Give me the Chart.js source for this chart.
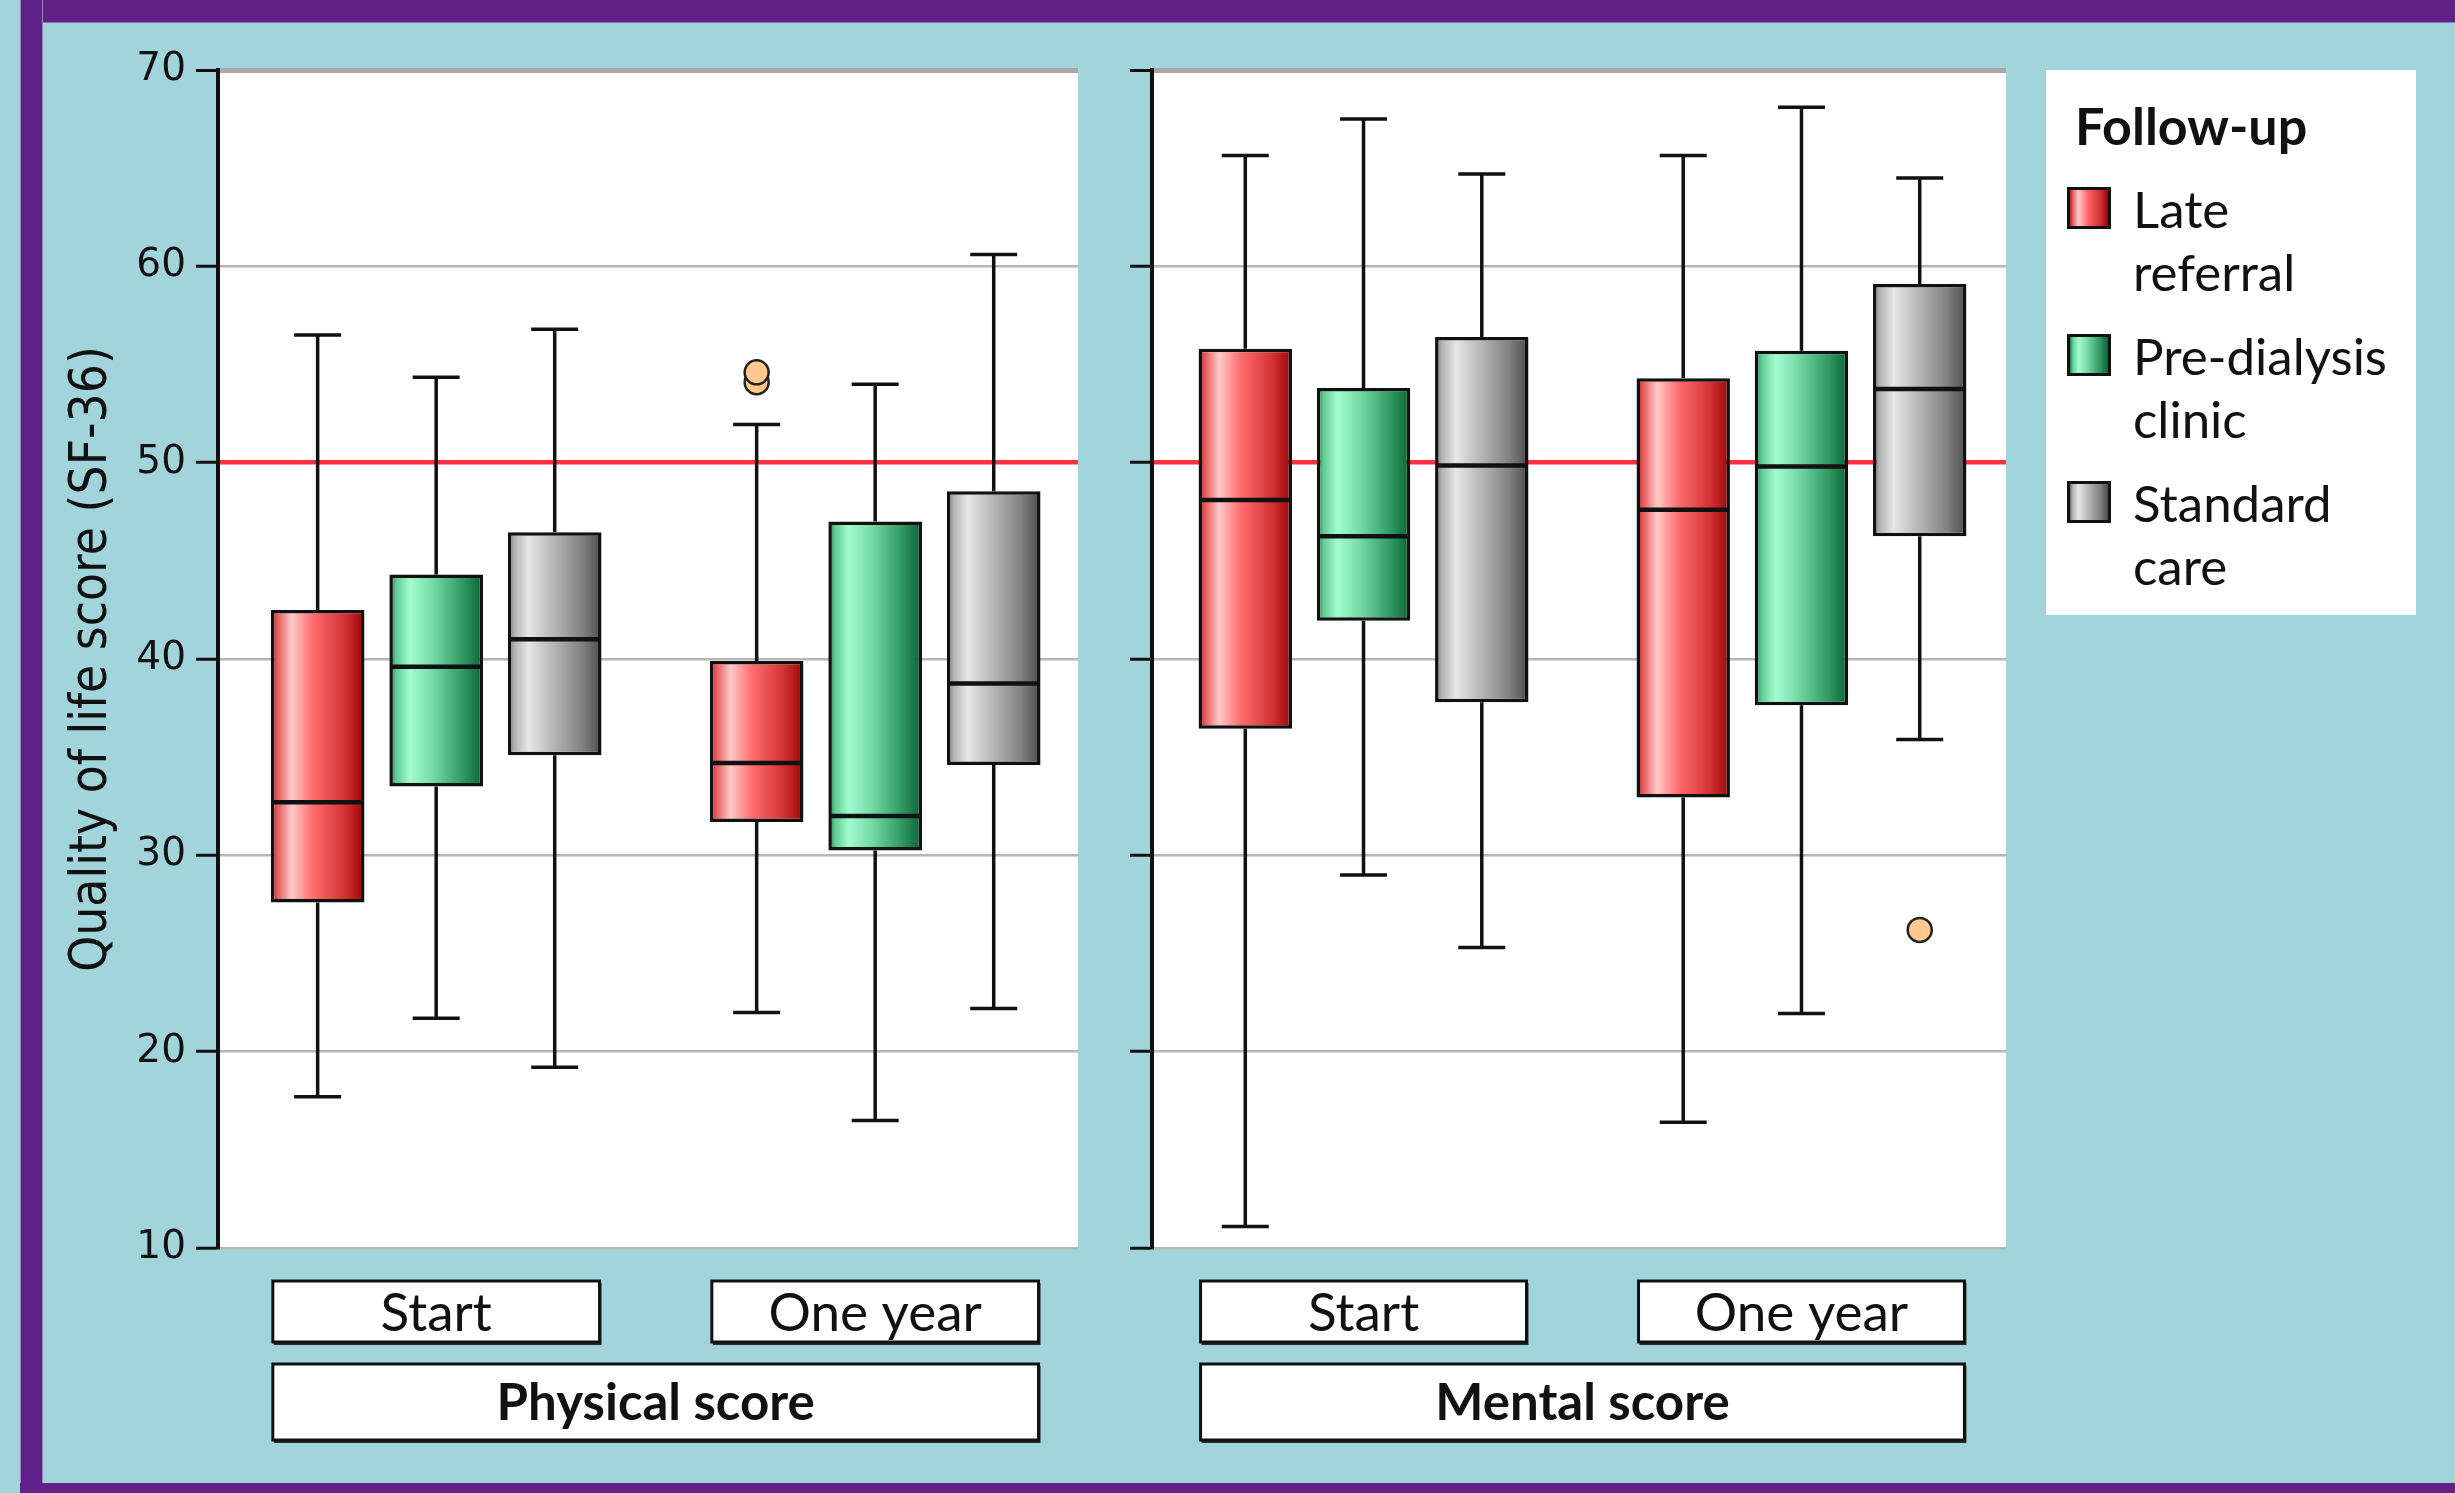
<!DOCTYPE html>
<html>
<head>
<meta charset="utf-8">
<title>Quality of life score (SF-36)</title>
<script src="https://cdn.jsdelivr.net/npm/chart.js@4.4.1/dist/chart.umd.min.js"></script>
<style>
  html, body { margin: 0; padding: 0; }
  body {
    width: 2455px; height: 1493px; position: relative; overflow: hidden;
    background: #a1d5db; font-family: Lato, "Open Sans", sans-serif;
  }
  .frame { position: absolute; background: #602288; }
  #frameTop { left: 20px; top: 0; width: 2435px; height: 22px; box-shadow: 0 1px 0 #8f73b3; }
  #frameLeft { left: 20px; top: 0; width: 23px; height: 1493px; box-shadow: inset 1px 0 0 #9c86bd, inset -1px 0 0 #9c86bd; }
  #frameBottom { left: 20px; top: 1483px; width: 2435px; height: 10px; }
  canvas { position: absolute; top: 0; }
  #physical { left: 0; }
  #mental { left: 1100px; }
  #legend {
    position: absolute; left: 2046px; top: 70px; width: 370px; height: 545px;
    background: #fff; box-sizing: border-box; padding: 24px 0 0 29px; color: #111;
  }
  .lg-title { font-weight: 700; font-size: 52px; line-height: 62px; }
  .lg-item { display: flex; align-items: flex-start; margin-top: 21px; margin-left: -8px; }
  .lg-swatch { width: 38px; height: 36px; border: 3px solid #111; margin-top: 10px; margin-right: 22px; flex: none; }
  .lg-text { font-size: 51px; line-height: 63px; }
</style>
</head>
<body>
<div class="frame" id="frameTop"></div>
<div class="frame" id="frameLeft"></div>
<div class="frame" id="frameBottom"></div>
<canvas id="physical" width="1100" height="1493"></canvas>
<canvas id="mental" width="1355" height="1493"></canvas>
<div id="legend"></div>

<script>
// ---- data -------------------------------------------------------------
const categories = ['Start', 'One year'];
const groupNames = ['Late referral', 'Pre-dialysis clinic', 'Standard care'];
const legendTitle = 'Follow-up';
const yTitle = 'Quality of life score (SF-36)';
const yTicks = [10, 20, 30, 40, 50, 60, 70];
const referenceValue = 50;

// rows: Late referral, Pre-dialysis clinic, Standard care; columns: Start, One year
const physicalMin    = [[17.7, 22.0], [21.7, 16.5], [19.2, 22.2]];
const physicalQ1     = [[27.6, 31.7], [33.5, 30.25], [35.1, 34.6]];
const physicalMedian = [[32.7, 34.7], [39.6, 32.0], [41.0, 38.75]];
const physicalQ3     = [[42.5, 39.9], [44.3, 47.0], [46.45, 48.55]];
const physicalMax    = [[56.5, 51.95], [54.35, 54.0], [56.8, 60.6]];
const physicalOutliers = [[[], [54.1, 54.6]], [[], []], [[], []]];

const mentalMin    = [[11.1, 16.4], [29.0, 21.95], [25.3, 35.9]];
const mentalQ1     = [[36.45, 32.95], [41.95, 37.65], [37.8, 46.25]];
const mentalMedian = [[48.1, 47.6], [46.25, 49.8], [49.85, 53.75]];
const mentalQ3     = [[55.8, 54.3], [53.8, 55.7], [56.4, 59.1]];
const mentalMax    = [[65.65, 65.65], [67.5, 68.1], [64.7, 64.5]];
const mentalOutliers = [[[], []], [[], []], [[], [26.2]]];

// ---- styling ----------------------------------------------------------
const boxShades = [
  [[0, '#b42424'], [0.07, '#e65a5a'], [0.22, '#ffc9c9'], [0.45, '#ff6d6d'], [0.8, '#d03030'], [1, '#9a0505']],
  [[0, '#1f7c4a'], [0.07, '#5fca92'], [0.22, '#a3fcd0'], [0.45, '#76dcaa'], [0.8, '#2e9660'], [1, '#0a6234']],
  [[0, '#6e6e6e'], [0.07, '#b2b2b2'], [0.22, '#e6e6e6'], [0.45, '#bdbdbd'], [0.8, '#808080'], [1, '#4c4c4c']]
];
const flatShades = ['#f06060', '#60d090', '#b0b0b0'];
const INK = '#111';

function boxGradient(ctx, gi) {
  const el = ctx.element;
  if (!el || !isFinite(el.x) || !el.width) return flatShades[gi];
  const g = ctx.chart.ctx.createLinearGradient(el.x - el.width / 2, 0, el.x + el.width / 2, 0);
  boxShades[gi].forEach(([o, c]) => g.addColorStop(o, c));
  return g;
}
function cssGradient(gi) {
  return 'linear-gradient(to right, ' + boxShades[gi].map(([o, c]) => c + ' ' + (o * 100) + '%').join(', ') + ')';
}

// whiskers, medians, outliers and the category label boxes
function makeBoxPlugin(stats, panelTitle) {
  const capWidth = 47;
  return {
    id: 'boxStats',
    beforeDraw(chart) {
      const { ctx, chartArea: a } = chart;
      ctx.save();
      ctx.fillStyle = '#ffffff';
      ctx.fillRect(a.left, a.top, a.right - a.left, a.bottom - a.top);
      ctx.restore();
    },
    beforeDatasetsDraw(chart) {
      const { ctx } = chart;
      const y = chart.scales.y;
      ctx.save();
      ctx.strokeStyle = INK;
      ctx.lineWidth = 3.5;
      chart.data.datasets.forEach((ds, gi) => {
        chart.getDatasetMeta(gi).data.forEach((bar, ci) => {
          const x = bar.x;
          const yMin = y.getPixelForValue(stats.min[gi][ci]);
          const yQ1 = y.getPixelForValue(stats.q1[gi][ci]);
          const yQ3 = y.getPixelForValue(stats.q3[gi][ci]);
          const yMax = y.getPixelForValue(stats.max[gi][ci]);
          ctx.beginPath();
          ctx.moveTo(x, yQ3); ctx.lineTo(x, yMax);
          ctx.moveTo(x, yQ1); ctx.lineTo(x, yMin);
          ctx.moveTo(x - capWidth / 2, yMax); ctx.lineTo(x + capWidth / 2, yMax);
          ctx.moveTo(x - capWidth / 2, yMin); ctx.lineTo(x + capWidth / 2, yMin);
          ctx.stroke();
        });
      });
      ctx.restore();
    },
    afterDatasetsDraw(chart) {
      const { ctx } = chart;
      const y = chart.scales.y;
      ctx.save();
      chart.data.datasets.forEach((ds, gi) => {
        chart.getDatasetMeta(gi).data.forEach((bar, ci) => {
          const yMed = y.getPixelForValue(stats.median[gi][ci]);
          ctx.strokeStyle = INK;
          ctx.lineWidth = 4.5;
          ctx.beginPath();
          ctx.moveTo(bar.x - bar.width / 2 + 1, yMed);
          ctx.lineTo(bar.x + bar.width / 2 - 1, yMed);
          ctx.stroke();
          stats.outliers[gi][ci].forEach(v => {
            ctx.beginPath();
            ctx.arc(bar.x, y.getPixelForValue(v), 12, 0, Math.PI * 2);
            ctx.fillStyle = '#ffc88c';
            ctx.fill();
            ctx.lineWidth = 2.5;
            ctx.strokeStyle = '#222';
            ctx.stroke();
          });
        });
      });
      ctx.restore();
    },
    afterDraw(chart) {
      const { ctx, chartArea: a } = chart;
      const first = chart.getDatasetMeta(0).data;
      const last = chart.getDatasetMeta(chart.data.datasets.length - 1).data;
      const drawLabelBox = (l, t, r, b, text, font) => {
        ctx.fillStyle = '#2b2b2b';
        ctx.fillRect(l + 1, t + 2, r - l + 1, b - t + 1);
        ctx.fillStyle = '#ffffff';
        ctx.fillRect(l, t, r - l, b - t);
        ctx.lineWidth = 3;
        ctx.strokeStyle = INK;
        ctx.strokeRect(l, t, r - l, b - t);
        ctx.fillStyle = INK;
        ctx.font = font;
        ctx.textAlign = 'center';
        ctx.textBaseline = 'middle';
        ctx.fillText(text, (l + r) / 2, (t + b) / 2 + 2);
      };
      ctx.save();
      let groupLeft = Infinity, groupRight = -Infinity;
      categories.forEach((cat, ci) => {
        const l = first[ci].x - first[ci].width / 2 + 2;
        const r = last[ci].x + last[ci].width / 2 - 2;
        groupLeft = Math.min(groupLeft, l);
        groupRight = Math.max(groupRight, r);
        drawLabelBox(l, a.bottom + 33, r, a.bottom + 94, cat, '53px Lato');
      });
      drawLabelBox(groupLeft, a.bottom + 116, groupRight, a.bottom + 192, panelTitle, 'bold 51px Lato');
      ctx.restore();
    }
  };
}

function makeChart(canvasId, stats, panelTitle, axisWidth, padRight, xMin, xMax, showLabels) {
  return new Chart(document.getElementById(canvasId), {
    type: 'bar',
    data: {
      datasets: groupNames.map((name, gi) => ({
        label: name,
        data: categories.map((c, ci) => ({ x: ci, y: [stats.q1[gi][ci], stats.q3[gi][ci]] })),
        backgroundColor: ctx => boxGradient(ctx, gi),
        borderColor: INK,
        borderWidth: 3.5,
        borderSkipped: false,
        categoryPercentage: 0.81,
        barPercentage: 0.79
      }))
    },
    options: {
      responsive: false,
      animation: false,
      events: [],
      layout: { padding: { left: 0, top: 70, right: padRight, bottom: 245 } },
      plugins: { legend: { display: false }, tooltip: { enabled: false } },
      scales: {
        x: {
          type: 'linear', display: false, offset: false, min: xMin, max: xMax,
          afterBuildTicks: s => { s.ticks = categories.map((c, i) => ({ value: i })); }
        },
        y: {
          min: yTicks[0], max: yTicks[yTicks.length - 1],
          afterBuildTicks: s => { s.ticks = yTicks.map(v => ({ value: v })); },
          afterFit: s => { s.width = axisWidth; },
          ticks: {
            display: showLabels, color: INK, padding: 10,
            font: { family: '"DejaVu Sans", Verdana, sans-serif', size: 39 }
          },
          grid: {
            color: c => c.tick && c.tick.value === referenceValue ? '#ff3040' : (c.tick && c.tick.value === 70 ? '#a8a8a8' : '#b6b6b6'),
            lineWidth: c => c.tick && c.tick.value === referenceValue ? 4.5 : (c.tick && c.tick.value === 70 ? 5 : 2.5),
            tickColor: INK, tickWidth: 3, tickLength: 22
          },
          border: { display: true, color: INK, width: 4 },
          title: {
            display: showLabels, text: yTitle, color: INK,
            font: { family: '"DejaVu Sans Condensed", "Liberation Sans Narrow", sans-serif', size: 51 },
            padding: { top: 62, bottom: 0 }
          }
        }
      }
    },
    plugins: [makeBoxPlugin(stats, panelTitle)]
  });
}

function buildLegend() {
  const el = document.getElementById('legend');
  el.innerHTML = '<div class="lg-title">' + legendTitle + '</div>' +
    groupNames.map((n, gi) =>
      '<div class="lg-item"><span class="lg-swatch" style="background:' + cssGradient(gi) + '"></span>' +
      '<span class="lg-text">' + n.split(' ').join('<br>') + '</span></div>').join('');
}

function build() {
  buildLegend();
  const charts = [
    makeChart('physical', {
      min: physicalMin, q1: physicalQ1, median: physicalMedian, q3: physicalQ3, max: physicalMax, outliers: physicalOutliers
    }, 'Physical score', 218, 22, -0.497, 1.462, true),
    makeChart('mental', {
      min: mentalMin, q1: mentalQ1, median: mentalMedian, q3: mentalQ3, max: mentalMax, outliers: mentalOutliers
    }, 'Mental score', 52, 449, -0.483, 1.467, false)
  ];
  // second pass so the box shading follows the laid-out bars
  charts.forEach(c => c.update('none'));
}

const fontsToLoad = ['53px Lato', 'bold 51px Lato', '39px "DejaVu Sans"', '51px "DejaVu Sans Condensed"'];
Promise.all(fontsToLoad.map(f => document.fonts.load(f).catch(() => null))).then(build, build);
</script>
</body>
</html>
